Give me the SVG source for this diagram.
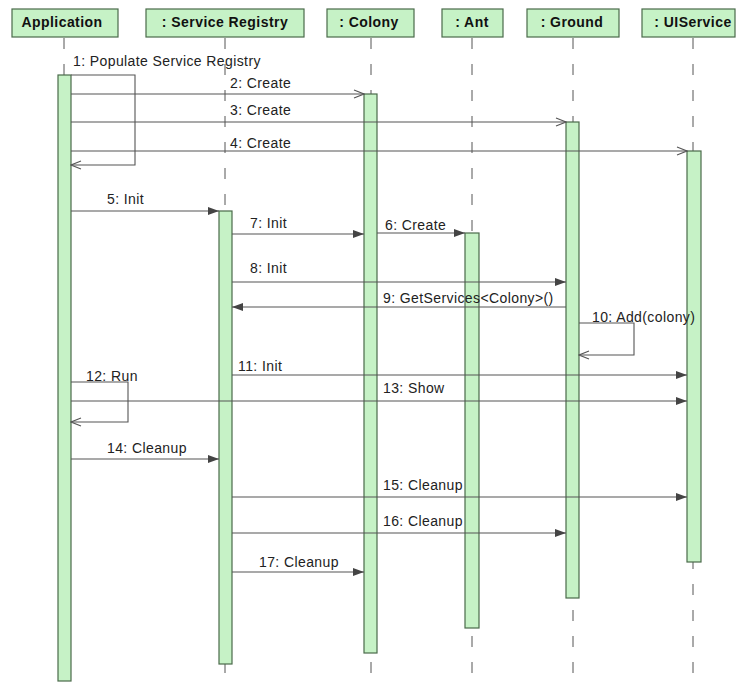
<svg xmlns="http://www.w3.org/2000/svg" width="736" height="686" viewBox="0 0 736 686">
  <style>
    .head rect { fill: #c6f2c6; stroke: #4a6a4a; stroke-width: 1.2; }
    .head text { font-family: "Liberation Sans", Arial, sans-serif; font-weight: bold; font-size: 14px; letter-spacing: 0.45px; fill: #111; text-anchor: middle; }
    .life { stroke: #555; stroke-width: 1; stroke-dasharray: 11 15; fill: none; }
    .act { fill: #c6f2c6; stroke: #4a6a4a; stroke-width: 1.2; }
    .msg { stroke: #555; stroke-width: 1.1; fill: none; }
    .sync { marker-end: url(#filled); }
    .open { marker-end: url(#vee); }
    .lbl { font-family: "Liberation Sans", Arial, sans-serif; font-size: 14px; letter-spacing: 0.4px; fill: #222; }
  </style>
  <defs>
    <marker id="filled" markerUnits="userSpaceOnUse" markerWidth="12" markerHeight="10" refX="11" refY="5" orient="auto">
      <path d="M0,1 L11,5 L0,9 Z" fill="#444"/>
    </marker>
    <marker id="vee" markerUnits="userSpaceOnUse" markerWidth="12" markerHeight="10" refX="11" refY="5" orient="auto">
      <path d="M1,1 L11,5 L1,9" fill="none" stroke="#555" stroke-width="1.1"/>
    </marker>
  </defs>
  <rect width="736" height="686" fill="#fff"/>

  <!-- lifelines -->
  <g id="lifelines">
    <line class="life" x1="64" y1="38" x2="64" y2="686"/>
    <line class="life" x1="225" y1="38" x2="225" y2="686"/>
    <line class="life" x1="371" y1="38" x2="371" y2="686"/>
    <line class="life" x1="472" y1="38" x2="472" y2="686"/>
    <line class="life" x1="573" y1="38" x2="573" y2="686"/>
    <line class="life" x1="693" y1="38" x2="693" y2="686"/>
  </g>

  <!-- participants -->
  <g id="application" class="head">
    <rect x="12" y="9" width="106" height="28"/>
    <text x="62" y="27">Application</text>
    <rect class="act" x="58" y="75" width="13" height="606"/>
  </g>
  <g id="service-registry" class="head">
    <rect x="146" y="9" width="158" height="28"/>
    <text x="225" y="27">: Service Registry</text>
    <rect class="act" x="219" y="211" width="13" height="453"/>
  </g>
  <g id="colony" class="head">
    <rect x="327" y="9" width="87" height="28"/>
    <text x="369" y="27">: Colony</text>
    <rect class="act" x="364" y="94" width="13" height="559"/>
  </g>
  <g id="ant" class="head">
    <rect x="442" y="9" width="61" height="28"/>
    <text x="472" y="27">: Ant</text>
    <rect class="act" x="465" y="233" width="14" height="395"/>
  </g>
  <g id="ground" class="head">
    <rect x="527" y="9" width="92" height="28"/>
    <text x="572" y="27">: Ground</text>
    <rect class="act" x="566" y="122" width="13" height="476"/>
  </g>
  <g id="uiservice" class="head">
    <rect x="642" y="9" width="93" height="28"/>
    <text x="693" y="27">: UIService</text>
    <rect class="act" x="687" y="151" width="14" height="411"/>
  </g>

  <!-- messages -->
  <g id="connectors">
    <polyline class="msg open" points="71,75 135,75 135,165 71,165"/>
    <line class="msg open" x1="71" y1="94" x2="364" y2="94"/>
    <line class="msg open" x1="71" y1="122" x2="566" y2="122"/>
    <line class="msg open" x1="71" y1="151" x2="687" y2="151"/>
    <line class="msg sync" x1="71" y1="211" x2="219" y2="211"/>
    <line class="msg sync" x1="232" y1="234" x2="364" y2="234"/>
    <line class="msg sync" x1="377" y1="233" x2="465" y2="233"/>
    <line class="msg sync" x1="232" y1="282" x2="566" y2="282"/>
    <line class="msg sync" x1="566" y1="307" x2="232" y2="307"/>
    <polyline class="msg open" points="579,323 634,323 634,355 579,355"/>
    <line class="msg sync" x1="232" y1="375" x2="687" y2="375"/>
    <polyline class="msg open" points="71,382 128,382 128,422 71,422"/>
    <line class="msg sync" x1="71" y1="401" x2="687" y2="401"/>
    <line class="msg sync" x1="71" y1="459" x2="219" y2="459"/>
    <line class="msg sync" x1="232" y1="497" x2="687" y2="497"/>
    <line class="msg sync" x1="232" y1="533" x2="566" y2="533"/>
    <line class="msg sync" x1="232" y1="572" x2="364" y2="572"/>
  </g>

  <!-- message labels -->
  <g id="labels" class="lbl">
    <text x="73" y="66">1: Populate Service Registry</text>
    <text x="230" y="88">2: Create</text>
    <text x="230" y="115">3: Create</text>
    <text x="230" y="148">4: Create</text>
    <text x="107" y="204">5: Init</text>
    <text x="250" y="228">7: Init</text>
    <text x="385" y="230">6: Create</text>
    <text x="250" y="273">8: Init</text>
    <text x="383" y="303">9: GetServices&lt;Colony&gt;()</text>
    <text x="592" y="322">10: Add(colony)</text>
    <text x="238" y="371">11: Init</text>
    <text x="86" y="381">12: Run</text>
    <text x="383" y="393">13: Show</text>
    <text x="107" y="453">14: Cleanup</text>
    <text x="383" y="490">15: Cleanup</text>
    <text x="383" y="526">16: Cleanup</text>
    <text x="259" y="567">17: Cleanup</text>
  </g>
</svg>
